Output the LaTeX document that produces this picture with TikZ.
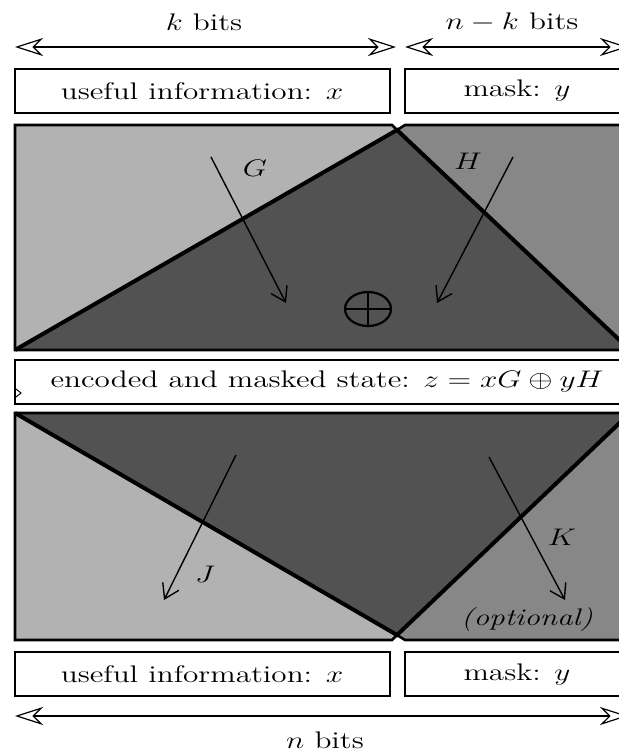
\documentclass[tikz,border=0pt]{standalone}
\usepackage{graphicx}
\usetikzlibrary{arrows.meta}
\definecolor{lightg}{gray}{0.70}
\definecolor{midg}{gray}{0.53}
\definecolor{darkg}{gray}{0.32}
\newcommand\sxt[1]{\scalebox{1.3}[1]{#1}}
\begin{document}
\begin{tikzpicture}[x=0.5pt,y=-0.5pt,
  txt/.style={font=\fontsize{12}{14}\selectfont, inner sep=0pt},
  box/.style={draw, line width=1.1pt, fill=white},
  region/.style={line width=1.3pt},
  dimarrow/.style={line width=0.6pt, {Stealth[open,length=14pt,width=9pt,inset=4.5pt]}-{Stealth[open,length=14pt,width=9pt,inset=4.5pt]}},
  vec/.style={line width=0.7pt, -{Straight Barb[length=7pt,width=9pt]}},
  diag/.style={line width=2pt},
]
\useasboundingbox (0,0) rectangle (619,755);
\clip (0,0) rectangle (619,755);

% dimension arrows (top)
\coordinate (kL) at (15,47);
\coordinate (kR) at (396,47);
\coordinate (nkL) at (405,47);
\coordinate (nkR) at (628,47);
\draw[dimarrow] (kL) -- (kR);
\draw[dimarrow] (nkL) -- (nkR);
\node[txt] (kbits) at (204,22) {\sxt{$k$ bits}};
\node[txt] (nkbits) at (512,22) {\sxt{$n-k$ bits}};

% top boxes
\draw[box] (15,69) rectangle (390,113);
\draw[box] (405,69) rectangle (640,113);
\node[txt] (ui1) at (202,91) {\sxt{useful information: $x$}};
\node[txt] (m1) at (517,91) {\sxt{mask: $y$}};

% top region
\fill[lightg] (15,125) -- (392,125) -- (397,130) -- (15,350) -- cycle;
\fill[midg] (405,125) -- (630,125) -- (630,350) -- (397,130) -- cycle;
\fill[darkg] (397,130) -- (630,350) -- (15,350) -- cycle;
\draw[diag] (15,350) -- (397,130) -- (630,350);
\draw[region] (15,350) -- (15,125) -- (392,125) -- (397,130) -- (405,125) -- (630,125) -- (630,350) -- cycle;

\coordinate (g1) at (211,157);
\coordinate (g2) at (286,303);
\coordinate (h1) at (513,157);
\coordinate (h2) at (437,303);
\draw[vec] (g1) -- (g2);
\draw[vec] (h1) -- (h2);
\node[txt] (G) at (255,168) {\sxt{$G$}};
\node[txt] (H) at (468,161) {\sxt{$H$}};
\draw[line width=1.1pt] (368,309) ellipse [x radius=23, y radius=17];
\draw[line width=0.9pt] (345,309) -- (391,309) (368,292) -- (368,326);

% middle box
\draw[box] (15,360) rectangle (640,404);
\node[txt] (state) at (327,382) {\sxt{encoded and masked state: $z=xG\oplus yH$}};
\draw[line width=0.5pt] (16,389) -- (21,393) -- (16,397);

% bottom region
\fill[lightg] (15,413) -- (397,635) -- (392,640) -- (15,640) -- cycle;
\fill[darkg] (15,413) -- (630,413) -- (397,635) -- cycle;
\fill[midg] (630,413) -- (630,640) -- (405,640) -- (397,635) -- cycle;
\draw[diag] (15,413) -- (397,635) -- (630,413);
\draw[region] (15,413) -- (630,413) -- (630,640) -- (405,640) -- (397,635) -- (392,640) -- (15,640) -- cycle;

\coordinate (j1) at (236,455);
\coordinate (j2) at (164,600);
\coordinate (k1) at (489,457);
\coordinate (k2) at (565,600);
\draw[vec] (j1) -- (j2);
\draw[vec] (k1) -- (k2);
\node[txt] (J) at (205,574) {\sxt{$J$}};
\node[txt] (K) at (562,537) {\sxt{$K$}};
\node[txt] (opt) at (527,620) {\sxt{\textit{(optional)}}};

% bottom boxes
\draw[box] (15,652) rectangle (390,696);
\draw[box] (405,652) rectangle (640,696);
\node[txt] (ui2) at (202,674) {\sxt{useful information: $x$}};
\node[txt] (m2) at (517,674) {\sxt{mask: $y$}};

% bottom dimension arrow
\coordinate (nL) at (15,716);
\coordinate (nR) at (628,716);
\draw[dimarrow] (nL) -- (nR);
\node[txt] (nbits) at (325,740) {\sxt{$n$ bits}};
\end{tikzpicture}
\end{document}
